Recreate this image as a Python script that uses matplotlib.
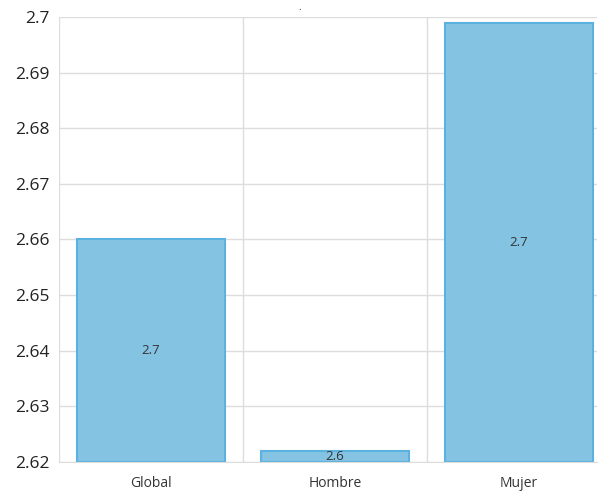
import matplotlib
matplotlib.use("Agg")
import matplotlib.pyplot as plt
import numpy as np

categories = ["Global", "Hombre", "Mujer"]
values = [2.660, 2.622, 2.699]
bar_labels = ["2.7", "2.6", "2.7"]
y_ticks = [2.62, 2.63, 2.64, 2.65, 2.66, 2.67, 2.68, 2.69, 2.70]
y_tick_labels = ["2.62", "2.63", "2.64", "2.65", "2.66", "2.67", "2.68", "2.69", "2.7"]

plt.rcParams["font.family"] = ["Open Sans", "DejaVu Sans"]

fig = plt.figure(figsize=(5.98, 4.93), dpi=100)
ax = fig.add_axes([59 / 598, 31 / 493, 538 / 598, 445 / 493])

ymin, ymax = 2.62, 2.70
x = np.arange(len(categories))
ax.bar(x, [v - ymin for v in values], bottom=ymin, width=0.8,
       color="#85c3e3", edgecolor="#5cb2de", linewidth=1.5, zorder=2)

for xi, v, lab in zip(x, values, bar_labels):
    ax.text(xi, (ymin + v) / 2, lab, ha="center", va="center",
            fontsize=9.5, color="#333333", zorder=3, clip_on=True)

ax.set_ylim(ymin, ymax)
ax.set_xlim(-0.5, 2.424)
ax.set_yticks(y_ticks)
ax.set_yticklabels(y_tick_labels, fontsize=12.5, color="#222222")
ax.set_xticks(x)
ax.set_xticklabels(categories, fontsize=10, color="#333333")
ax.set_xticks([-0.5, 0.5, 1.5], minor=True)
ax.tick_params(axis="both", which="both", length=0)
ax.tick_params(axis="y", pad=7)
ax.tick_params(axis="x", pad=10)

ax.grid(axis="y", color="#dddddd", linewidth=1, zorder=0)
ax.grid(axis="x", which="minor", color="#dddddd", linewidth=1, zorder=0)
ax.grid(axis="x", which="major", visible=False)
for s in ["top", "right", "left"]:
    ax.spines[s].set_visible(False)
ax.spines["bottom"].set_color("#dddddd")

fig.text(300 / 598, 1 - 8 / 493, ".", ha="center", va="center", fontsize=7, color="#333333")

fig.savefig("out.png", dpi=100)
